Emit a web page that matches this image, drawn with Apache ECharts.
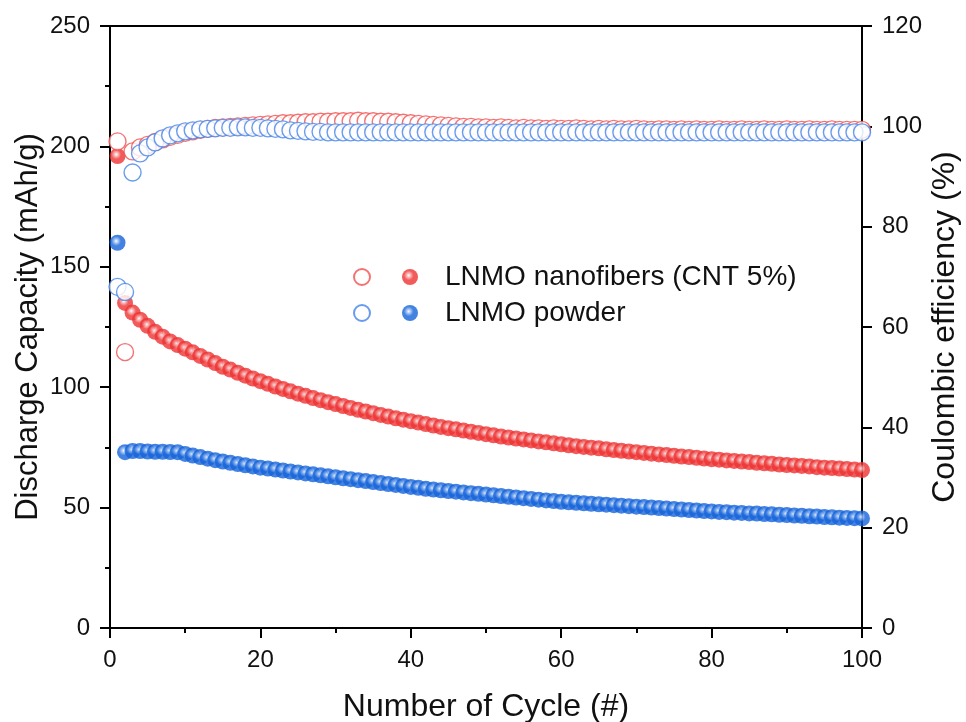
<!DOCTYPE html>
<html>
<head>
<meta charset="utf-8">
<script src="https://cdn.jsdelivr.net/npm/echarts@6/dist/echarts.min.js"></script>
<style>html,body{margin:0;padding:0;background:#fff;}#c{width:966px;height:722px;}</style>
</head>
<body>
<div id="c"></div>
<script>
const cycles = [];
for (let i = 1; i <= 100; i++) cycles.push(i);

const nfCapacity = [196,135,131,128,125.5,123,121,119,117.5,116,114.5,113,111.5,110,108.5,107.3,106,104.8,103.6,102.5,
101.4,100.3,99.3,98.3,97.3,96.4,95.5,94.6,93.8,93,92.2,91.4,90.6,89.9,89.2,88.5,87.8,87.1,86.5,85.9,
85.3,84.7,84.1,83.5,83,82.5,82,81.5,81,80.5,80,79.5,79.1,78.7,78.3,77.9,77.5,77.1,76.7,76.3,
75.9,75.5,75.2,74.9,74.6,74.2,73.9,73.6,73.3,73,72.7,72.4,72.1,71.8,71.5,71.2,71,70.7,70.4,70.1,
69.9,69.6,69.4,69.1,68.9,68.6,68.4,68.2,67.9,67.7,67.5,67.3,67.1,66.8,66.6,66.4,66.2,66,65.8,65.6];

const pwCapacity = [160,73,73.5,73.5,73.3,73.2,73.2,73.1,73,72.3,71.6,71,70.3,69.7,69.1,68.6,68.1,67.6,67.1,66.6,
66.2,65.8,65.4,65,64.6,64.2,63.8,63.4,63,62.6,62.2,61.8,61.4,61,60.6,60.2,59.8,59.4,59,58.6,
58.2,57.8,57.5,57.2,56.9,56.6,56.3,56,55.7,55.4,55.1,54.8,54.5,54.2,53.9,53.6,53.3,53,52.7,52.4,
52.2,52,51.8,51.6,51.4,51.2,51,50.8,50.6,50.4,50.2,50,49.8,49.6,49.4,49.2,49,48.8,48.6,48.4,
48.2,48.1,47.9,47.8,47.6,47.5,47.3,47.2,47,46.9,46.7,46.6,46.4,46.3,46.1,46,45.8,45.7,45.6,45.5];

const nfEfficiency = [97,55,95,95.8,96.3,96.9,97.4,97.9,98.3,98.7,99,99.3,99.5,99.7,99.8,99.9,100,100.1,100.2,100.3,
100.4,100.5,100.6,100.6,100.7,100.8,100.8,100.9,100.9,101,101,101,101.1,101,101,100.9,100.9,100.8,100.7,100.6,
100.5,100.4,100.3,100.2,100.1,100,99.9,99.9,99.8,99.8,99.7,99.8,99.7,99.6,99.7,99.6,99.6,99.5,99.6,99.5,
99.5,99.6,99.5,99.4,99.5,99.4,99.5,99.4,99.4,99.5,99.4,99.3,99.4,99.4,99.3,99.4,99.3,99.4,99.3,99.3,
99.4,99.3,99.3,99.4,99.3,99.3,99.4,99.3,99.3,99.4,99.3,99.3,99.4,99.3,99.3,99.4,99.3,99.3,99.3,99.3];

const pwEfficiency = [68,67,90.8,94.6,95.8,96.8,97.6,98.2,98.6,99,99.2,99.4,99.5,99.6,99.7,99.7,99.8,99.8,99.7,99.7,
99.6,99.5,99.4,99.2,99.1,99,98.9,98.9,98.8,98.8,98.8,98.8,98.8,98.8,98.8,98.8,98.8,98.8,98.8,98.8,
98.8,98.8,98.8,98.8,98.8,98.8,98.8,98.8,98.8,98.8,98.8,98.8,98.8,98.8,98.8,98.8,98.8,98.8,98.8,98.8,
98.8,98.8,98.8,98.8,98.8,98.8,98.8,98.8,98.8,98.8,98.8,98.8,98.8,98.8,98.8,98.8,98.8,98.8,98.8,98.8,
98.8,98.8,98.8,98.8,98.8,98.8,98.8,98.8,98.8,98.8,98.8,98.8,98.8,98.8,98.8,98.8,98.8,98.8,98.8,98.8];

const seriesNames = ['LNMO nanofibers (CNT 5%)', 'LNMO powder'];
const xTitle = 'Number of Cycle (#)';
const yLeftTitle = 'Discharge Capacity (mAh/g)';
const yRightTitle = 'Coulombic efficiency (%)';

const FONT = "'Liberation Sans', Arial, sans-serif";
const RED = '#ee3232';
const BLUE = '#1463da';

function pairs(vals){ return vals.map((v,i)=>[cycles[i], v]); }
function ball(base, mid){
  return new echarts.graphic.RadialGradient(0.42, 0.4, 0.5, [
    {offset:0, color:'#ffffff'},
    {offset:0.22, color:mid},
    {offset:0.6, color:base},
    {offset:1, color:base}
  ]);
}

const chart = echarts.init(document.getElementById('c'));
const axisCommon = {
  axisLine:{show:true, lineStyle:{color:'#000', width:2}},
  axisTick:{show:true, inside:false, length:10, lineStyle:{color:'#000', width:2}},
  splitLine:{show:false},
  axisLabel:{color:'#111', fontSize:24, fontFamily:FONT, margin:20},
  nameTextStyle:{color:'#111', fontSize:31, fontFamily:FONT},
  nameMoveOverlap:false
};

chart.setOption({
  backgroundColor:'#fff',
  animation:false,
  grid:{left:110, right:104, top:26, bottom:94, show:true, borderColor:'#000', borderWidth:2,
        backgroundColor:'transparent', containLabel:false, outerBoundsMode:'none'},
  legend:[
    {
      data:[seriesNames[0]+' CE', seriesNames[1]+' CE'],
      orient:'vertical', left:348, top:263, itemWidth:16, itemHeight:16, itemGap:18,
      formatter:()=> '', selectedMode:false,
      textStyle:{fontSize:16}
    },
    {
      data:[seriesNames[0], seriesNames[1]],
      orient:'vertical', left:397, top:258, itemWidth:16, itemHeight:16, itemGap:8,
      selectedMode:false,
      textStyle:{fontSize:28, color:'#111', fontFamily:FONT, padding:[0,0,0,22]}
    }
  ],
  xAxis:Object.assign({}, axisCommon, {
    type:'value', min:0, max:100, interval:20,
    minorTick:{show:true, splitNumber:2, length:5, lineStyle:{color:'#000', width:2}},
    name:xTitle, nameLocation:'middle', nameGap:63,
    nameTextStyle:{color:'#111', fontSize:32, fontFamily:FONT}
  }),
  yAxis:[
    Object.assign({}, axisCommon, {
      type:'value', min:0, max:250, interval:50, position:'left',
      minorTick:{show:true, splitNumber:2, length:5, lineStyle:{color:'#000', width:2}},
      name:yLeftTitle, nameLocation:'middle', nameGap:66
    }),
    Object.assign({}, axisCommon, {
      type:'value', min:0, max:120, interval:20, position:'right',
      name:yRightTitle, nameLocation:'middle', nameGap:67, nameRotate:90,
      nameTextStyle:{color:'#111', fontSize:32, fontFamily:FONT}
    })
  ],
  series:[
    {name:seriesNames[0], type:'scatter', yAxisIndex:0, data:pairs(nfCapacity), symbol:'circle', symbolSize:16, z:2,
     itemStyle:{color:ball(RED,'#f7b0b0'), borderWidth:0}},
    {name:seriesNames[1], type:'scatter', yAxisIndex:0, data:pairs(pwCapacity), symbol:'circle', symbolSize:16, z:2,
     itemStyle:{color:ball(BLUE,'#9cc0f2'), borderWidth:0}},
    {name:seriesNames[0]+' CE', type:'scatter', yAxisIndex:1, data:pairs(nfEfficiency), symbol:'circle', symbolSize:17, z:3,
     itemStyle:{color:'#fff', borderColor:'#f05050', borderWidth:1.4}},
    {name:seriesNames[1]+' CE', type:'scatter', yAxisIndex:1, data:pairs(pwEfficiency), symbol:'circle', symbolSize:17, z:4,
     itemStyle:{color:'#fff', borderColor:'#4583e8', borderWidth:1.4}}
  ]
});
</script>
</body>
</html>
